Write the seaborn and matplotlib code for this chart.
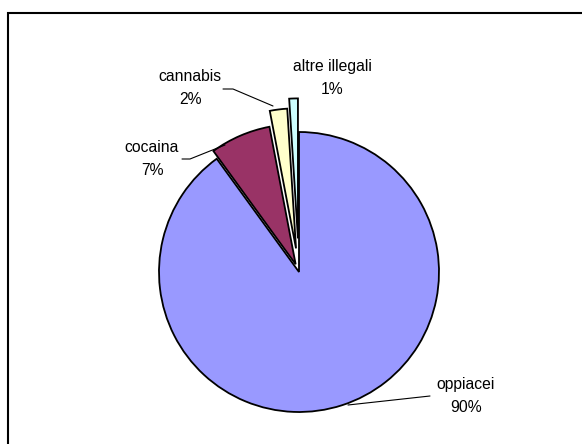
import numpy as np
import matplotlib
matplotlib.use("Agg")
import matplotlib.pyplot as plt
from matplotlib.patches import Rectangle
import seaborn as sns

# data
categories = ["oppiacei", "cocaina", "cannabis", "altre illegali"]
shares = [90, 7, 2, 1]
explode = [0.0, 0.06, 0.17, 0.24]
slice_colors = ["#9999FF", "#993366", "#FFFFCC", "#CCFFFF"]

sns.set_style("white")
plt.rcParams["font.family"] = ["Liberation Sans", "DejaVu Sans"]

W, H = 582, 444
fig = plt.figure(figsize=(W / 100, H / 100), dpi=100)

# chart frame (cut at right/bottom edges like the reference)
fig.patches.append(Rectangle((8 / W, -0.1), 1.2, 1.1 - 13 / H,
                             transform=fig.transFigure, fill=False,
                             edgecolor="black", linewidth=1.5))

# pie centre at (299, 272) px, radius 140 px
cx, cy, R, half = 299, H - 272, 140, 200
ax = fig.add_axes([(cx - half) / W, (cy - half) / H, 2 * half / W, 2 * half / H])

palette = sns.color_palette(slice_colors)
wedges, _ = ax.pie(shares, explode=explode, colors=palette, startangle=90,
                   counterclock=False,
                   wedgeprops=dict(edgecolor="black", linewidth=1.3))
L = half / R
ax.set_xlim(-L, L)
ax.set_ylim(-L, L)
ax.set_aspect("equal")
ax.axis("off")


def px(x, y):
    return ((x - 299) / R, (272 - y) / R)


# label block centres and leader lines (pixel positions)
label_pos = [px(466, 396), px(152, 159), px(190, 88), px(332, 78)]
leaders = [
    [px(348, 405), px(430, 396)],
    [px(225, 145), px(190, 159), px(182, 159)],
    [px(273, 106), px(233, 89), px(223, 89)],
    None,
]

for name, val, pos, line in zip(categories, shares, label_pos, leaders):
    ax.text(pos[0], pos[1], f"{name}\n{val}%", ha="center", va="center",
            fontsize=11.3, linespacing=1.7, color="black")
    if line is not None:
        xs = [p[0] for p in line]
        ys = [p[1] for p in line]
        ax.plot(xs, ys, color="black", linewidth=0.8)

fig.savefig("out.png", dpi=100, facecolor="white")
